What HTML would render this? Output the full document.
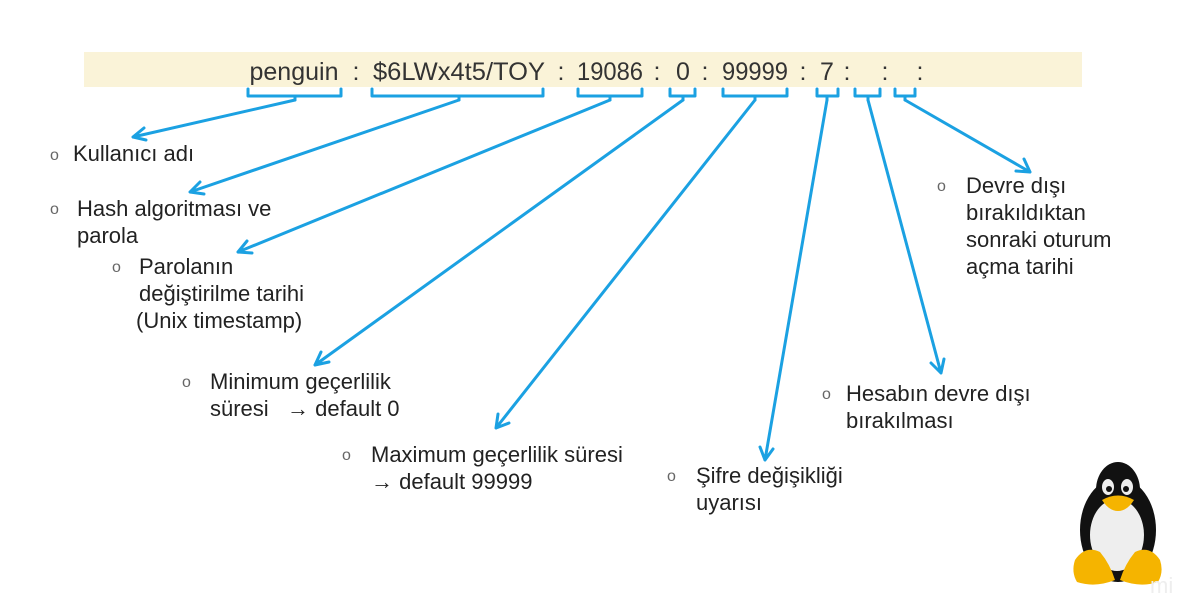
<!DOCTYPE html>
<html><head><meta charset="utf-8"><style>
html,body{margin:0;padding:0;background:#fff;width:1183px;height:596px;overflow:hidden}
svg{display:block}
text{font-family:"Liberation Sans","DejaVu Sans",sans-serif;fill:#222;font-size:22px}
.b{fill:#666;font-size:16px}
.t{font-size:25px;fill:#333;text-anchor:middle}
</style></head><body>
<svg width="1183" height="596" viewBox="0 0 1183 596">
<rect x="84" y="52" width="998" height="35" fill="#faf3d8"/>
<text class="t" x="294" y="80">penguin</text>
<text class="t" x="356" y="80">:</text>
<text class="t" x="459" y="80" textLength="172" lengthAdjust="spacingAndGlyphs">$6LWx4t5/TOY</text>
<text class="t" x="561" y="80">:</text>
<text class="t" x="610" y="80" textLength="66" lengthAdjust="spacingAndGlyphs">19086</text>
<text class="t" x="657" y="80">:</text>
<text class="t" x="683" y="80">0</text>
<text class="t" x="705" y="80">:</text>
<text class="t" x="755" y="80" textLength="66" lengthAdjust="spacingAndGlyphs">99999</text>
<text class="t" x="803" y="80">:</text>
<text class="t" x="827" y="80">7</text>
<text class="t" x="847" y="80">:</text>
<text class="t" x="885" y="80">:</text>
<text class="t" x="920" y="80">:</text>
<g stroke="#1ba1e2" stroke-width="3" fill="none" stroke-linecap="round" stroke-linejoin="round">
<path d="M248 89v7h93v-7M295 96v4"/>
<path d="M372 89v7h171v-7M459 96v4"/>
<path d="M578 89v7h64v-7M610 96v4"/>
<path d="M670 89v7h25v-7M683 96v4"/>
<path d="M723 89v7h64v-7M755 96v4"/>
<path d="M817 89v7h21v-7M827 96v4"/>
<path d="M855 89v7h25v-7M868 96v4"/>
<path d="M895 89v7h20v-7M905 96v4"/>
<path d="M295 100L133 137M133 137l11-9M133 137l13 3"/>
<path d="M459 100L190 192M190 192l10-10M190 192l14 2"/>
<path d="M610 100L238 252M238 252l9-11M238 252l14 1"/>
<path d="M683 100L315 365M315 365l6-13M315 365l14-3"/>
<path d="M755 100L496 428M496 428l2-14M496 428l13-5"/>
<path d="M827 100L765 460M765 460l-5-13M765 460l8-11"/>
<path d="M868 100L941 373M941 373l-10-10M941 373l3-14"/>
<path d="M905 100L1030 172M1030 172l-14-1M1030 172l-6-13"/>
</g>
<text class="b" x="50" y="160">o</text><text x="73" y="161">Kullanıcı adı</text>
<text class="b" x="50" y="214">o</text><text x="77" y="216">Hash algoritması ve</text><text x="77" y="243">parola</text>
<text class="b" x="112" y="272">o</text><text x="139" y="274">Parolanın</text><text x="139" y="301">değiştirilme tarihi</text><text x="136" y="328">(Unix timestamp)</text>
<text class="b" x="182" y="387">o</text><text x="210" y="389">Minimum geçerlilik</text><text x="210" y="416" xml:space="preserve">süresi   → default 0</text>
<text class="b" x="342" y="460">o</text><text x="371" y="462">Maximum geçerlilik süresi</text><text x="371" y="489">→ default 99999</text>
<text class="b" x="667" y="481">o</text><text x="696" y="483">Şifre değişikliği</text><text x="696" y="510">uyarısı</text>
<text class="b" x="822" y="399">o</text><text x="846" y="401">Hesabın devre dışı</text><text x="846" y="428">bırakılması</text>
<text class="b" x="937" y="191">o</text><text x="966" y="193">Devre dışı</text><text x="966" y="220">bırakıldıktan</text><text x="966" y="247">sonraki oturum</text><text x="966" y="274">açma tarihi</text>
<g>
<ellipse cx="1118" cy="530" rx="38" ry="52" fill="#111"/>
<ellipse cx="1118" cy="490" rx="22" ry="28" fill="#111"/>
<ellipse cx="1117" cy="535" rx="27" ry="36" fill="#eee"/>
<ellipse cx="1108" cy="487" rx="6" ry="8" fill="#eee"/><ellipse cx="1127" cy="487" rx="6" ry="8" fill="#eee"/>
<circle cx="1109" cy="489" r="3" fill="#111"/><circle cx="1126" cy="489" r="3" fill="#111"/>
<path d="M1102 500q16-9 32 0q-7 11-16 11q-9 0-16-11z" fill="#f5b400"/>
<path d="M1075 560q10-15 25-8q10 12 15 28q-20 8-38 2q-6-10-2-22z" fill="#f5b400"/>
<path d="M1160 560q-10-15-25-8q-10 12-15 28q20 8 38 2q6-10 2-22z" fill="#f5b400"/>
</g>
<text x="1150" y="593" style="fill:#eee;font-size:22px">mi</text>
</svg>
</body></html>
